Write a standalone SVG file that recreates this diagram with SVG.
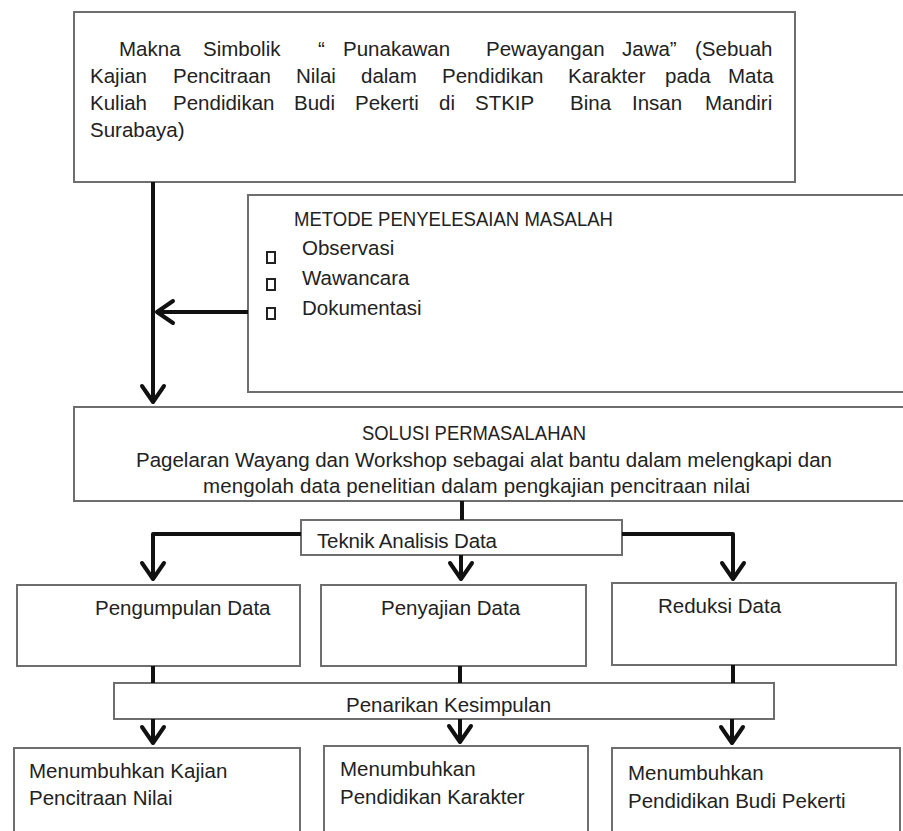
<svg xmlns="http://www.w3.org/2000/svg" width="903" height="831" viewBox="0 0 903 831">
<style>
  .box{fill:#ffffff;stroke:#6e6e6e;stroke-width:2}
  .t{font-family:"Liberation Sans",Arial,sans-serif;font-size:20.5px;fill:#222222}
  .conn{fill:none;stroke:#111111;stroke-width:4;stroke-linejoin:round}
  .bullet{fill:#ffffff;stroke:#222222;stroke-width:2}
</style>
<defs>
  <marker id="arr" markerUnits="userSpaceOnUse" markerWidth="30" markerHeight="30" viewBox="-22 -15 30 30" refX="0" refY="0" orient="auto" overflow="visible">
    <path d="M-17,-11 L-1,0 L-17,11" fill="none" stroke="#111111" stroke-width="4" stroke-linecap="round" stroke-linejoin="round"/>
  </marker>
</defs>
<rect width="903" height="831" fill="#ffffff"/>

<g id="judul">
  <rect class="box" x="74" y="12" width="721" height="170"/>
  <text class="t" y="56"><tspan x="119">Makna</tspan><tspan x="203">Simbolik</tspan><tspan x="318">“</tspan><tspan x="343">Punakawan</tspan><tspan x="486">Pewayangan</tspan><tspan x="622">Jawa”</tspan><tspan x="695">(Sebuah</tspan></text>
  <text class="t" y="83"><tspan x="90">Kajian</tspan><tspan x="173">Pencitraan</tspan><tspan x="296">Nilai</tspan><tspan x="361">dalam</tspan><tspan x="442">Pendidikan</tspan><tspan x="568">Karakter</tspan><tspan x="665">pada</tspan><tspan x="728">Mata</tspan></text>
  <text class="t" y="110"><tspan x="90">Kuliah</tspan><tspan x="173">Pendidikan</tspan><tspan x="294">Budi</tspan><tspan x="355">Pekerti</tspan><tspan x="439">di</tspan><tspan x="475">STKIP</tspan><tspan x="570">Bina</tspan><tspan x="632">Insan</tspan><tspan x="705">Mandiri</tspan></text>
  <text class="t" x="90" y="137">Surabaya)</text>
</g>

<g id="metode">
  <rect class="box" x="248" y="195" width="670" height="197"/>
  <text class="t" x="294" y="226" textLength="319" lengthAdjust="spacingAndGlyphs">METODE PENYELESAIAN MASALAH</text>
  <rect class="bullet" x="267" y="252" width="8" height="11"/>
  <text class="t" x="302" y="255">Observasi</text>
  <rect class="bullet" x="267" y="279" width="8" height="11"/>
  <text class="t" x="302" y="285">Wawancara</text>
  <rect class="bullet" x="267" y="308" width="8" height="11"/>
  <text class="t" x="302" y="315">Dokumentasi</text>
</g>

<g id="solusi">
  <rect class="box" x="74" y="407" width="845" height="94"/>
  <text class="t" x="362" y="440" textLength="224" lengthAdjust="spacingAndGlyphs">SOLUSI PERMASALAHAN</text>
  <text class="t" x="136" y="467" textLength="696" lengthAdjust="spacing">Pagelaran Wayang dan Workshop sebagai alat bantu dalam melengkapi dan</text>
  <text class="t" x="203" y="493" textLength="547" lengthAdjust="spacing">mengolah data penelitian dalam pengkajian pencitraan nilai</text>
</g>

<g id="teknik">
  <rect class="box" x="301" y="520" width="321" height="35"/>
  <text class="t" x="317" y="548" textLength="180" lengthAdjust="spacing">Teknik Analisis Data</text>
</g>

<g id="pengumpulan">
  <rect class="box" x="17" y="585" width="283" height="81"/>
  <text class="t" x="95" y="615">Pengumpulan Data</text>
</g>
<g id="penyajian">
  <rect class="box" x="321" y="585" width="265" height="81"/>
  <text class="t" x="381" y="615">Penyajian Data</text>
</g>
<g id="reduksi">
  <rect class="box" x="612" y="583" width="284" height="82"/>
  <text class="t" x="658" y="613">Reduksi Data</text>
</g>

<g id="penarikan">
  <rect class="box" x="114" y="683" width="660" height="36"/>
  <text class="t" x="346" y="712">Penarikan Kesimpulan</text>
</g>

<g id="hasil1">
  <rect class="box" x="14" y="748" width="286" height="95"/>
  <text class="t" x="29" y="778">Menumbuhkan Kajian</text>
  <text class="t" x="29" y="805">Pencitraan Nilai</text>
</g>
<g id="hasil2">
  <rect class="box" x="324" y="746" width="264" height="97"/>
  <text class="t" x="340" y="776">Menumbuhkan</text>
  <text class="t" x="340" y="804">Pendidikan Karakter</text>
</g>
<g id="hasil3">
  <rect class="box" x="612" y="748" width="288" height="95"/>
  <text class="t" x="628" y="780">Menumbuhkan</text>
  <text class="t" x="628" y="808">Pendidikan Budi Pekerti</text>
</g>

<g id="connectors">
  <path class="conn" d="M153,182 V403" marker-end="url(#arr)"/>
  <path class="conn" d="M248,312 H156" marker-end="url(#arr)"/>
  <path class="conn" d="M462,501 V520"/>
  <path class="conn" d="M301,534 H153 V580" marker-end="url(#arr)"/>
  <path class="conn" d="M622,534 H733 V580" marker-end="url(#arr)"/>
  <path class="conn" d="M461,555 V580" marker-end="url(#arr)"/>
  <path class="conn" d="M153,666 V683"/>
  <path class="conn" d="M460,666 V683"/>
  <path class="conn" d="M733,665 V683"/>
  <path class="conn" d="M153,719 V744" marker-end="url(#arr)"/>
  <path class="conn" d="M460,719 V743" marker-end="url(#arr)"/>
  <path class="conn" d="M732,719 V744" marker-end="url(#arr)"/>
</g>
</svg>
